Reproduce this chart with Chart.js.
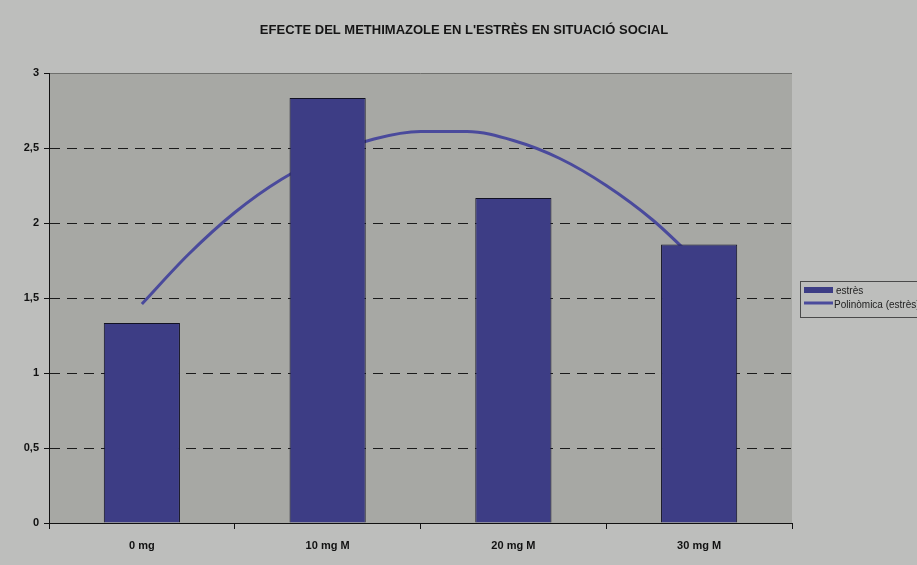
<!DOCTYPE html>
<html>
<head>
<meta charset="utf-8">
<script src="https://cdn.jsdelivr.net/npm/chart.js@4/dist/chart.umd.min.js"></script>
<style>
  html, body { margin: 0; padding: 0; background: #bdbebc; }
  #wrap { width: 917px; height: 565px; }
</style>
</head>
<body>
<div id="wrap"><canvas id="c" width="917" height="565"></canvas></div>
<script>
// Doses and mean stress score for each group
const categories = ['0 mg', '10 mg M', '20 mg M', '30 mg M'];
const stressValues = [1.333, 2.833, 2.167, 1.857];

// Second-order polynomial trend, sampled along the dose axis (1 = first group)
const trendX = [1, 1.25, 1.5, 1.75, 2, 2.25, 2.5, 2.75, 3, 3.25, 3.5, 3.75, 4];
const trendY = [1.46, 1.79, 2.07, 2.29, 2.45, 2.56, 2.61, 2.61, 2.55, 2.43, 2.25, 2.02, 1.73];

const yTicks = [0, 0.5, 1, 1.5, 2, 2.5, 3];

const titleText = "EFECTE DEL METHIMAZOLE EN L'ESTRÈS EN SITUACIÓ SOCIAL";
const barLabel = 'estrès';
const trendLabel = 'Polinòmica (estrès)';

const BAR_COLOR = '#3d3d85';
const LINE_COLOR = '#4a4a9c';
const PLOT_BG = '#a7a8a4';
const PAGE_BG = '#bdbebc';

const fmt = v => String(v).replace('.', ',');

// Page background, plot area fill and title
const backdrop = {
  id: 'backdrop',
  beforeDraw(chart) {
    const { ctx, chartArea: a } = chart;
    ctx.save();
    ctx.fillStyle = PAGE_BG;
    ctx.fillRect(0, 0, chart.width, chart.height);
    ctx.fillStyle = PLOT_BG;
    ctx.fillRect(a.left, a.top, a.right - a.left, a.bottom - a.top);
    // darker top edge of the plot area
    ctx.strokeStyle = '#6e6f6c';
    ctx.lineWidth = 1;
    ctx.beginPath();
    ctx.moveTo(a.left, a.top + 0.5);
    ctx.lineTo(a.right, a.top + 0.5);
    ctx.stroke();
    ctx.fillStyle = '#151515';
    ctx.font = 'bold 13px "Liberation Sans", Arial, sans-serif';
    ctx.textAlign = 'center';
    ctx.textBaseline = 'middle';
    ctx.fillText(titleText, 464, 30);
    ctx.restore();
  }
};

// Legend box on the right, partly running off the canvas edge
const sideLegend = {
  id: 'sideLegend',
  afterDraw(chart) {
    const { ctx } = chart;
    const ds = chart.data.datasets;
    const x0 = 800, y0 = 281, w = 130, h = 36;
    ctx.save();
    ctx.fillStyle = PAGE_BG;
    ctx.fillRect(x0, y0, w, h);
    ctx.strokeStyle = '#4a4a4a';
    ctx.lineWidth = 1;
    ctx.strokeRect(x0 + 0.5, y0 + 0.5, w, h);
    ctx.font = '10px "Liberation Sans", Arial, sans-serif';
    ctx.textBaseline = 'middle';
    ctx.textAlign = 'left';
    // bar swatch
    ctx.fillStyle = ds[0].backgroundColor;
    ctx.fillRect(x0 + 4, y0 + 6, 29, 6);
    ctx.fillStyle = '#222';
    ctx.fillText(ds[0].label, x0 + 36, y0 + 10);
    // line swatch
    ctx.strokeStyle = ds[1].borderColor;
    ctx.lineWidth = 3;
    ctx.beginPath();
    ctx.moveTo(x0 + 4, y0 + 22);
    ctx.lineTo(x0 + 33, y0 + 22);
    ctx.stroke();
    ctx.fillStyle = '#222';
    ctx.fillText(ds[1].label, x0 + 34, y0 + 24);
    ctx.restore();
  }
};

// Short tick marks on the value axis
const yDecor = {
  id: 'yDecor',
  beforeDatasetsDraw(chart) {
    const { ctx, chartArea: a, scales: { y } } = chart;
    ctx.save();
    ctx.strokeStyle = '#111';
    ctx.lineWidth = 1;
    yTicks.forEach(v => {
      const py = Math.round(y.getPixelForValue(v)) + 0.5;
      ctx.beginPath();
      ctx.moveTo(a.left - 5, py);
      ctx.lineTo(a.left, py);
      ctx.stroke();
    });
    ctx.restore();
  }
};

new Chart(document.getElementById('c'), {
  type: 'bar',
  data: {
    labels: categories,
    datasets: [
      {
        type: 'bar',
        label: barLabel,
        data: stressValues,
        backgroundColor: BAR_COLOR,
        borderColor: '#111122',
        borderWidth: 1,
        grouped: false,
        barPercentage: 0.41,
        categoryPercentage: 1,
        order: 0,
        xAxisID: 'x',
        yAxisID: 'y'
      },
      {
        type: 'line',
        label: trendLabel,
        data: trendX.map((x, i) => ({ x: x, y: trendY[i] })),
        borderColor: LINE_COLOR,
        borderWidth: 3,
        pointRadius: 0,
        cubicInterpolationMode: 'monotone',
        fill: false,
        order: 1,
        xAxisID: 'xTrend',
        yAxisID: 'y'
      }
    ]
  },
  options: {
    responsive: false,
    animation: false,
    events: [],
    layout: { padding: { top: 73, left: 0, right: 125, bottom: 0 } },
    plugins: {
      legend: { display: false },
      title: { display: false },
      tooltip: { enabled: false }
    },
    scales: {
      x: {
        type: 'category',
        offset: true,
        grid: {
          display: true,
          offset: true,
          drawOnChartArea: false,
          drawTicks: true,
          tickLength: 6,
          color: '#111'
        },
        border: { display: true, color: '#111', width: 1 },
        ticks: {
          color: '#111',
          font: { family: '"Liberation Sans", Arial, sans-serif', size: 11, weight: 'bold' },
          padding: 10
        },
        afterFit(scale) { scale.height = 42; }
      },
      xTrend: {
        type: 'linear',
        display: false,
        offset: false,
        grid: { offset: false },
        min: 0.5,
        max: 4.5
      },
      y: {
        type: 'linear',
        min: 0,
        max: 3,
        afterBuildTicks(scale) { scale.ticks = yTicks.map(v => ({ value: v })); },
        grid: {
          color: ctx => (ctx.tick && (ctx.tick.value === 0 || ctx.tick.value === 3)) ? 'rgba(0,0,0,0)' : '#1a1a1a',
          lineWidth: 1,
          drawTicks: false
        },
        border: { display: true, color: '#111', width: 1, dash: [10, 7] },
        ticks: {
          color: '#111',
          font: { family: '"Liberation Sans", Arial, sans-serif', size: 11, weight: 'bold' },
          padding: 10,
          callback: v => fmt(v)
        },
        afterFit(scale) { scale.width = 49; }
      }
    }
  },
  plugins: [backdrop, sideLegend, yDecor]
});
</script>
</body>
</html>
